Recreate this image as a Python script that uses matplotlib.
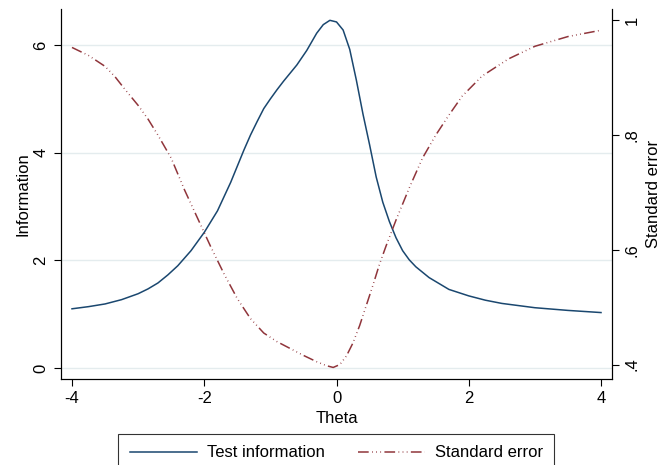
import matplotlib
matplotlib.use("Agg")
import matplotlib.pyplot as plt
from matplotlib.lines import Line2D

plt.rcParams['font.family'] = ['Liberation Sans', 'DejaVu Sans']

# test information curve
theta_info = [-4.0, -3.75, -3.5, -3.25, -3.0, -2.85, -2.7, -2.55, -2.4, -2.2, -2.0,
              -1.8, -1.6, -1.4, -1.3, -1.2, -1.1, -1.0, -0.9, -0.8, -0.7, -0.6,
              -0.45, -0.3, -0.2, -0.1, 0.0, 0.1, 0.2, 0.3, 0.4, 0.5, 0.6, 0.7,
              0.8, 0.9, 1.0, 1.1, 1.2, 1.4, 1.7, 2.0, 2.25, 2.5, 3.0, 3.5, 4.0]
info = [1.10, 1.14, 1.19, 1.27, 1.38, 1.47, 1.58, 1.73, 1.90, 2.18, 2.52,
        2.92, 3.45, 4.05, 4.33, 4.58, 4.82, 5.00, 5.17, 5.33, 5.48, 5.63,
        5.90, 6.22, 6.38, 6.46, 6.43, 6.28, 5.92, 5.35, 4.72, 4.15, 3.55, 3.08,
        2.72, 2.42, 2.18, 2.01, 1.88, 1.68, 1.46, 1.34, 1.26, 1.20, 1.12, 1.07, 1.03]

# standard error curve
theta_se = [-4.0, -3.75, -3.5, -3.35, -3.2, -3.0, -2.85, -2.7, -2.5, -2.3, -2.1,
            -1.9, -1.7, -1.5, -1.3, -1.1, -0.9, -0.7, -0.5, -0.3, -0.15, -0.05,
            0.05, 0.15, 0.25, 0.35, 0.45, 0.55, 0.65, 0.75, 0.9, 1.1, 1.3, 1.5,
            1.7, 1.9, 2.2, 2.6, 3.0, 3.5, 4.0]
se = [0.953, 0.939, 0.920, 0.902, 0.880, 0.852, 0.828, 0.800, 0.760, 0.705, 0.655,
      0.605, 0.558, 0.515, 0.480, 0.455, 0.440, 0.428, 0.416, 0.405, 0.398, 0.395,
      0.400, 0.415, 0.438, 0.468, 0.503, 0.538, 0.575, 0.607, 0.652, 0.708, 0.760, 0.800,
      0.835, 0.868, 0.903, 0.933, 0.955, 0.972, 0.983]

x_ticks = [-4, -2, 0, 2, 4]
info_ticks = [0, 2, 4, 6]
se_ticks = [0.4, 0.6, 0.8, 1.0]
se_tick_labels = ['.4', '.6', '.8', '1']

navy = '#1a476f'
maroon = '#90353b'
grid_col = '#e4ecee'
se_dash = (0, (7, 2.2, 0.5, 2.2, 0.5, 2.2, 0.5, 2.2))

fig = plt.figure(figsize=(6.72, 4.65), dpi=100)
ax = fig.add_axes([0.0908, 0.185, 0.8199, 0.7956])
ax2 = ax.twinx()

ax.plot(theta_info, info, color=navy, lw=1.1, solid_joinstyle='round')
ax2.plot(theta_se, se, color=maroon, lw=1.1, linestyle=se_dash)

ax.set_xlim(-4.166, 4.166)
ax.set_ylim(-0.204, 6.67)
ax2.set_ylim(0.3749, 1.020)

ax.set_xticks(x_ticks)
ax.set_xticklabels([str(v) for v in x_ticks])
ax.set_yticks(info_ticks)
ax.set_yticklabels([str(v) for v in info_ticks], rotation=90, va='center')
ax2.set_yticks(se_ticks)
ax2.set_yticklabels(se_tick_labels, rotation=90, va='center')

for a in (ax, ax2):
    a.tick_params(labelsize=12, length=5, width=0.8, direction='out', pad=4)
    a.spines['top'].set_visible(False)

ax.grid(True, axis='y', color=grid_col, lw=1.0)
ax.set_axisbelow(True)

ax.set_xlabel('Theta', fontsize=12, labelpad=3)
ax.set_ylabel('Information', fontsize=12, labelpad=2)
ax2.set_ylabel('Standard error', fontsize=12, labelpad=5)

handles = [Line2D([], [], color=navy, lw=1.1),
           Line2D([], [], color=maroon, lw=1.1, linestyle=se_dash)]
leg = fig.legend(handles, ['Test information', 'Standard error'],
                 loc='upper center', bbox_to_anchor=(0.5007, 0.0673),
                 borderaxespad=0, ncol=2, fontsize=12, frameon=True,
                 fancybox=False, handlelength=4.0, handletextpad=0.6,
                 columnspacing=2.0, borderpad=0.7)
leg.get_frame().set_edgecolor('black')
leg.get_frame().set_linewidth(0.8)

fig.savefig('out.png', dpi=100)
